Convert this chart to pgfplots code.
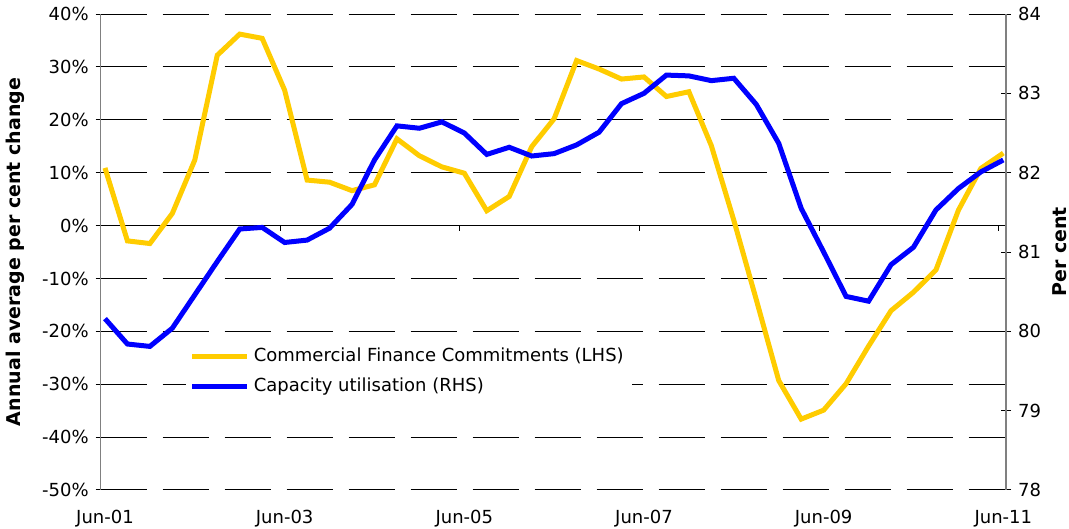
\documentclass[border=0pt]{standalone}
\usepackage{pgfplots}
\pgfplotsset{compat=1.18}
\usepackage{fontspec}
\setmainfont{DejaVu Sans}
\definecolor{cfcyellow}{HTML}{FFCC00}
\definecolor{capblue}{HTML}{0000FF}
\begin{document}
\begin{tikzpicture}
\pgfplotsset{
  base/.style={
    scale only axis, width=452.65pt, height=238pt,
    xmin=-0.19, xmax=40.12,
    xtick={0,8,...,40},
    xticklabels={Jun-01,Jun-03,Jun-05,Jun-07,Jun-09,Jun-11},
    tick label style={font=\fontsize{9}{10}\selectfont},
    /pgf/number format/assume math mode=true,
    label style={font=\fontsize{9.5}{11}\selectfont\bfseries},
  }
}
\begin{axis}[base, at={(0,0)}, anchor=south west,
  ymin=-50, ymax=40, ytick={-50,-40,...,40},
  yticklabel={\pgfmathprintnumber{\tick}\%},
  axis x line*=bottom, axis y line*=left,
  x axis line style={draw=none},
  y axis line style={gray, line width=0.6pt},
  xtick style={draw=none},
  xticklabel style={yshift=-4pt},
  ytick style={black, line width=0.5pt},
  major tick length=2.5pt, tick align=outside,
  ymajorgrids,
  major grid style={black, line width=0.5pt, dash pattern=on 23pt off 8pt},
  ylabel={Annual average per cent change},
  ylabel style={at={(rel axis cs:-0.0947,0.5)}, anchor=center},
]
\draw[black, line width=0.5pt] (axis cs:-0.19,0) -- (axis cs:40.12,0);
\pgfplotsinvokeforeach{7.8,15.8,23.8,31.8,39.8}{
  \draw[black, line width=0.5pt] (axis cs:#1,0) -- ++(0pt,-2.5pt);
}
\addplot[cfcyellow, line width=2.5pt] coordinates {
(0,10.9) (1,-2.9) (2,-3.4) (3,2.3) (4,12.4) (5,32.2) (6,36.2) (7,35.4)
(8,25.6) (9,8.6) (10,8.2) (11,6.6) (12,7.7) (13,16.4) (14,13.2) (15,11.1)
(16,9.9) (17,2.8) (18,5.5) (19,14.9) (20,20.2) (21,31.2) (22,29.6) (23,27.7)
(24,28.1) (25,24.4) (26,25.3) (27,15.1) (28,1.0) (29,-14.0) (30,-29.3) (31,-36.6)
(32,-34.9) (33,-29.9) (34,-22.8) (35,-16.1) (36,-12.6) (37,-8.4) (38,2.9) (39,10.8)
(40,13.7)
};
\end{axis}
\begin{axis}[base, at={(0,0)}, anchor=south west,
  ymin=78, ymax=84, ytick={78,...,84},
  axis y line*=right, axis x line=none,
  y axis line style={gray, line width=0.6pt},
  ytick style={black, line width=0.5pt},
  major tick length=5pt, tick align=center,
  ylabel={Per cent},
  ylabel style={at={(rel axis cs:1.0597,0.5)}, anchor=center},
  legend style={at={(rel axis cs:0.0936,0.32)}, anchor=north west, draw=none, fill=white,
    font=\fontsize{9}{11}\selectfont, row sep=2.5pt, inner xsep=2pt, inner ysep=3pt},
  legend cell align=left,
  legend image code/.code={\draw[#1] (0pt,0pt) -- (27.5pt,0pt);},
]
\addlegendimage{cfcyellow, line width=2.5pt}
\addlegendentry{Commercial Finance Commitments (LHS)\hspace{46pt}}
\addplot[capblue, line width=2.5pt] coordinates {
(0,80.16) (1,79.84) (2,79.81) (3,80.04) (4,80.46) (5,80.88) (6,81.29) (7,81.31)
(8,81.12) (9,81.15) (10,81.30) (11,81.60) (12,82.16) (13,82.59) (14,82.56) (15,82.64)
(16,82.50) (17,82.23) (18,82.32) (19,82.21) (20,82.24) (21,82.35) (22,82.51) (23,82.87)
(24,83.00) (25,83.23) (26,83.22) (27,83.16) (28,83.19) (29,82.86) (30,82.37) (31,81.55)
(32,81.00) (33,80.44) (34,80.38) (35,80.84) (36,81.06) (37,81.53) (38,81.80) (39,82.01)
(40,82.16)
};
\addlegendentry{Capacity utilisation (RHS)}
\end{axis}
\pgfresetboundingbox
\path (-50.35pt,-19.5pt) rectangle (484.15pt,245pt);
\end{tikzpicture}
\end{document}
